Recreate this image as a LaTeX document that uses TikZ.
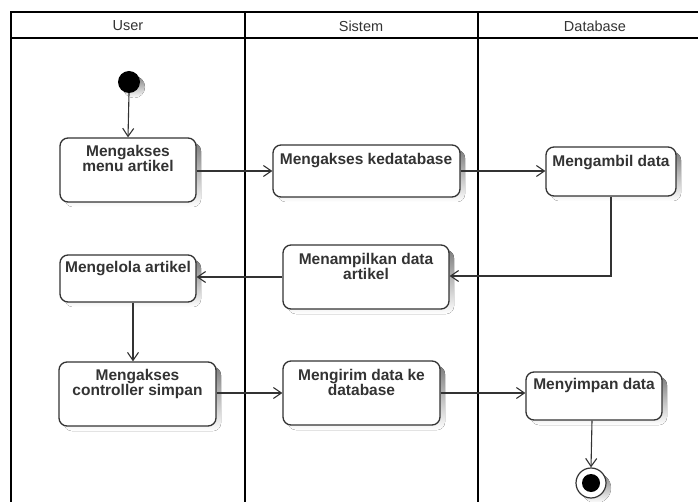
\documentclass[tikz,border=0pt]{standalone}
\usepackage{fontspec}
\setmainfont{Liberation Sans}
\usetikzlibrary{arrows.meta,positioning}
\definecolor{ink}{HTML}{333333}
\definecolor{shade}{HTML}{EEEEEE}
\tikzset{
  lane/.style={line width=2.2pt, black},
  lanetitle/.style={font=\fontsize{14.5}{14.5}\selectfont, text=ink, anchor=center},
  actbox/.style={draw=ink, line width=1.3pt, rounded corners=8pt, fill=white, inner sep=0pt},
  acttext/.style={font=\fontsize{15.5}{15}\bfseries\selectfont, text=ink, align=center, anchor=north, inner sep=0pt},
  flow/.style={draw=ink, line width=1.1pt, -{Straight Barb[length=8pt,width=11pt,line width=1.1pt]}},
}
% rounded action box with a soft drop shadow: name, left, top, right, bottom
\newcommand{\actionbox}[5]{%
  \fill[shade, rounded corners=8pt] (#2+5,#3+5) rectangle (#4+5,#5+5);
  \node[actbox, minimum width=#4-#2, minimum height=#5-#3] (#1) at ({(#2+#4)/2},{(#3+#5)/2}) {};
}
\begin{document}
\begin{tikzpicture}[x=1pt,y=-1pt]
\useasboundingbox (0,0) rectangle (698,502);
\fill[white] (0,0) rectangle (698,502);

% swimlane frame
\draw[lane] (11,502) -- (11,12) -- (700,12);
\draw[lane] (11,38) -- (700,38);
\draw[lane] (245,12) -- (245,502);
\draw[lane] (478,12) -- (478,502);
\node[lanetitle] (tUser) at (128,26) {User};
\node[lanetitle] (tSistem) at (361,26) {Sistem};
\node[lanetitle] (tDb) at (595,26) {Database};

% initial node
\fill[shade] (134,87) circle (11);
\node[circle, fill=black, minimum size=22pt, inner sep=0pt] (start) at (129,82) {};

% actions
\actionbox{a1}{60}{138}{196}{202}
\node[acttext] (a1t) at (128,145) {Mengakses\\menu artikel};
\actionbox{b1}{273}{145}{460}{197}
\node[acttext] (b1t) at (366,153) {Mengakses kedatabase};
\actionbox{c1}{546}{147}{676}{196}
\node[acttext] (c1t) at (611,155) {Mengambil data};
\actionbox{b2}{283}{245}{449}{309}
\node[acttext] (b2t) at (366,253) {Menampilkan data\\artikel};
\actionbox{a2}{60}{255}{196}{302}
\node[acttext] (a2t) at (128,261) {Mengelola artikel};
\actionbox{a3}{59}{362}{216}{426}
\node[acttext] (a3t) at (137.5,369) {Mengakses\\controller simpan};
\actionbox{b3}{283}{361}{440}{425}
\node[acttext] (b3t) at (361.5,369) {Mengirim data ke\\database};
\actionbox{c2}{526}{372}{662}{420}
\node[acttext] (c2t) at (594,378) {Menyimpan data};

% final node
\fill[shade] (596,488) circle (15);
\node[circle, draw=ink, line width=1.2pt, fill=white, minimum size=30pt, inner sep=0pt] (stop) at (591,483) {};
\node[circle, fill=black, minimum size=18pt, inner sep=0pt] (stopdot) at (stop.center) {};

% control flow
\draw[flow] (start.south) -- (a1.north);
\draw[flow] (a1.east |- 0,171) -- (b1.west |- 0,171);
\draw[flow] (b1.east |- 0,171) -- (c1.west |- 0,171);
\draw[flow] (c1.south) |- (b2.east |- 0,276);
\draw[flow] (b2.west |- 0,277) -- (a2.east |- 0,277);
\draw[flow] (a2.south -| 133,0) -- (a3.north -| 133,0);
\draw[flow] (a3.east |- 0,393) -- (b3.west |- 0,393);
\draw[flow] (b3.east |- 0,393) -- (c2.west |- 0,393);
\draw[flow] (c2.south -| 592,0) -- (stop.north);
\end{tikzpicture}
\end{document}
